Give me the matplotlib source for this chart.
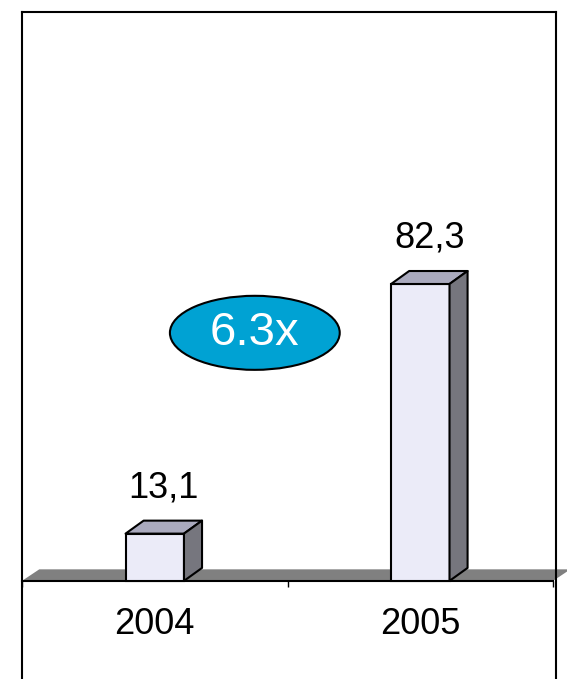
import matplotlib
matplotlib.use("Agg")
import matplotlib.pyplot as plt
from matplotlib.patches import Polygon, Ellipse

plt.rcParams['font.family'] = ['Liberation Sans', 'DejaVu Sans']

years = ['2004', '2005']
revenue = [13.1, 82.3]
value_labels = ['13,1', '82,3']
growth_label = '6.3x'

# pseudo-3D geometry (x in category units, y in value units)
bar_width = 0.22
depth_x = 0.068
depth_y = 3.6
floor_dx = 0.065
floor_dy = 3.2

front_color = '#EBEBF8'
top_color = '#AAAABE'
side_color = '#76767E'
floor_color = '#808080'

fig = plt.figure(figsize=(5.67, 6.79), dpi=100)
ax = fig.add_axes([22 / 567, 0.0, 534 / 567, 667 / 679])
ax.set_xlim(-0.5, 1.511)
ax.set_ylim(-27.2, 157.7)

# floor slab
floor = Polygon([(-0.5, 0), (1.5, 0), (1.5 + floor_dx, floor_dy),
                 (-0.5 + floor_dx, floor_dy)], closed=True,
                facecolor=floor_color, edgecolor='none', zorder=1, clip_on=False)
ax.add_patch(floor)

xs = range(len(years))
ax.bar(xs, revenue, width=bar_width, color=front_color, edgecolor='black',
       linewidth=1.5, zorder=3)
for x, v, lab in zip(xs, revenue, value_labels):
    l, r = x - bar_width / 2, x + bar_width / 2
    top = Polygon([(l, v), (r, v), (r + depth_x, v + depth_y), (l + depth_x, v + depth_y)],
                  closed=True, facecolor=top_color, edgecolor='black', linewidth=1.5,
                  joinstyle='round', zorder=3)
    side = Polygon([(r, 0), (r + depth_x, depth_y), (r + depth_x, v + depth_y), (r, v)],
                   closed=True, facecolor=side_color, edgecolor='black', linewidth=1.5,
                   joinstyle='round', zorder=3)
    ax.add_patch(top)
    ax.add_patch(side)
    ax.annotate(lab, (x + depth_x / 2, v + depth_y), xytext=(0, 11),
                textcoords='offset points', ha='center', va='bottom', fontsize=26)

# growth bubble
ax.add_patch(Ellipse((0.436, 0.519), 0.318, 0.111, transform=ax.transAxes,
                     facecolor='#00A2D3', edgecolor='black', linewidth=1.5, zorder=4))
ax.text(0.436, 0.519, growth_label, transform=ax.transAxes, ha='center', va='center',
        color='white', fontsize=34, zorder=5)

# frame and category axis
for s in ['top', 'left', 'right']:
    ax.spines[s].set_linewidth(1.5)
ax.spines['bottom'].set_position(('data', 0))
ax.spines['bottom'].set_linewidth(1.5)
ax.spines['bottom'].set_bounds(-0.5, 1.5)
ax.spines['bottom'].set_zorder(2)
ax.set_yticks([])
ax.set_xticks([-0.5, 0.5, 1.5])
ax.tick_params(axis='x', which='major', direction='out', length=4, width=1,
               labelbottom=False)
ax.set_xticks(list(xs), minor=True)
ax.set_xticklabels(years, minor=True)
ax.tick_params(axis='x', which='minor', length=0, pad=19, labelsize=26)

fig.savefig('out.png', dpi=100)
